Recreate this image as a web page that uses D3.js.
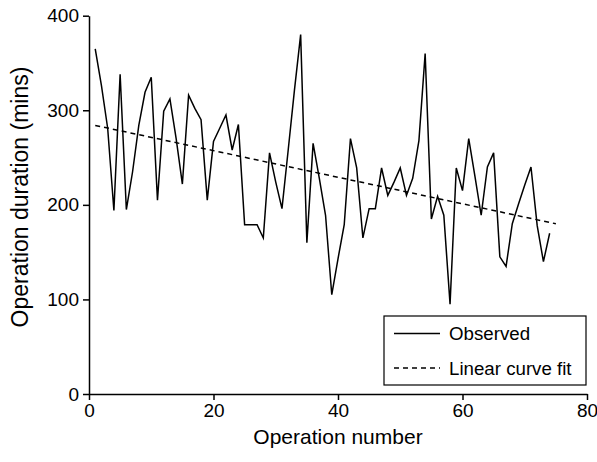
<!DOCTYPE html>
<html>
<head>
<meta charset="utf-8">
<script src="https://cdn.jsdelivr.net/npm/d3@7"></script>
<style>
  html, body { margin: 0; padding: 0; background: #fff; }
  svg { display: block; font-family: "Liberation Sans", Arial, sans-serif; }
</style>
</head>
<body>
<svg id="chart" width="597" height="462"></svg>
<script>
// Operation numbers and observed durations (mins)
const operations = d3.range(1, 75);
const observed = [
  365, 326, 281, 194, 338, 195, 235, 284, 319, 335,
  205, 299, 312, 270, 222, 316, 302, 290, 205, 267,
  281, 295, 258, 285, 179, 179, 179, 165, 255, 224,
  196, 258, 321, 380, 160, 265, 228, 189, 105, 143,
  179, 270, 239, 165, 196, 196, 239, 210, 224, 239,
  210, 228, 268, 360, 185, 209, 189, 95, 239, 215,
  270, 230, 189, 240, 255, 145, 135, 180, 201, 221,
  240, 178, 140, 170
];
// Linear curve fit end points
const fitX = [1, 75];
const fitY = [284, 180];

const xTicks = [0, 20, 40, 60, 80];
const yTicks = [0, 100, 200, 300, 400];
const legendLabels = ["Observed", "Linear curve fit"];

const svg = d3.select("#chart");
const x = d3.scaleLinear().domain([0, 80]).range([89, 587]);
const y = d3.scaleLinear().domain([0, 400]).range([394, 15.7]);

// axes
const xAxis = svg.append("g")
  .attr("transform", `translate(0,${y(0)})`)
  .call(d3.axisBottom(x).tickValues(xTicks).tickSizeInner(6).tickSizeOuter(0).tickPadding(4));
const yAxis = svg.append("g")
  .attr("transform", `translate(${x(0)},0)`)
  .call(d3.axisLeft(y).tickValues(yTicks).tickSizeInner(6).tickSizeOuter(0).tickPadding(4));
[xAxis, yAxis].forEach(g => {
  g.selectAll("path.domain").attr("stroke", "#000").attr("stroke-width", 1.5);
  g.selectAll(".tick line").attr("stroke", "#000").attr("stroke-width", 1.5);
  g.selectAll(".tick text").attr("fill", "#000")
    .style("font-size", "19px").style("font-family", "'Liberation Sans', Arial, sans-serif");
});

// observed line
const line = d3.line().x((d, i) => x(operations[i])).y(d => y(d));
svg.append("path")
  .datum(observed)
  .attr("fill", "none")
  .attr("stroke", "#000")
  .attr("stroke-width", 1.5)
  .attr("stroke-linejoin", "miter")
  .attr("d", line);

// linear fit
svg.append("path")
  .datum(fitY)
  .attr("fill", "none")
  .attr("stroke", "#000")
  .attr("stroke-width", 1.5)
  .attr("stroke-dasharray", "5,4")
  .attr("d", d3.line().x((d, i) => x(fitX[i])).y(d => y(d)));

// axis titles
svg.append("text")
  .attr("x", (x(0) + x(80)) / 2)
  .attr("y", 444)
  .attr("text-anchor", "middle")
  .style("font-size", "21px")
  .text("Operation number");
svg.append("text")
  .attr("transform", `translate(28,197) rotate(-90)`)
  .attr("text-anchor", "middle")
  .style("font-size", "23px")
  .text("Operation duration (mins)");

// legend
const lg = svg.append("g");
lg.append("rect")
  .attr("x", 384).attr("y", 316).attr("width", 202).attr("height", 69)
  .attr("fill", "#fff").attr("stroke", "#000").attr("stroke-width", 1.2);
const legendY = [333.5, 368];
legendLabels.forEach((lab, i) => {
  lg.append("line")
    .attr("x1", 394).attr("x2", 440)
    .attr("y1", legendY[i]).attr("y2", legendY[i])
    .attr("stroke", "#000").attr("stroke-width", 1.4)
    .attr("stroke-dasharray", i === 1 ? "5,4" : null);
  lg.append("text")
    .attr("x", 449).attr("y", legendY[i] + 6.5)
    .style("font-size", "18.7px")
    .text(lab);
});
</script>
</body>
</html>
